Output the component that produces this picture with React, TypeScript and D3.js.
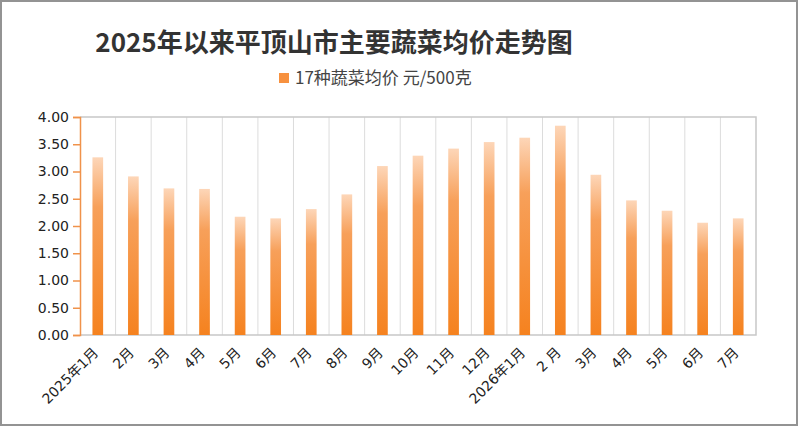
import React, { useEffect, useRef } from 'react';
import * as d3 from 'd3';

const months: string[] = [
  '2025年1月', '2月', '3月', '4月', '5月', '6月', '7月', '8月', '9月', '10月',
  '11月', '12月', '2026年1月', '2 月', '3月', '4月', '5月', '6月', '7月',
];
const prices: number[] = [
  3.26, 2.91, 2.69, 2.68, 2.17, 2.14, 2.31, 2.58, 3.1, 3.29,
  3.42, 3.54, 3.62, 3.84, 2.94, 2.47, 2.28, 2.06, 2.14,
];
const yTicks: number[] = [0, 0.5, 1, 1.5, 2, 2.5, 3, 3.5, 4];
const title = '2025年以来平顶山市主要蔬菜均价走势图';
const seriesName = '17种蔬菜均价 元/500克';

const App: React.FC = () => {
  const ref = useRef<SVGSVGElement | null>(null);

  useEffect(() => {
    const W = 800, H = 436;
    const plot = { left: 80, right: 756, top: 117, bottom: 335 };
    const font = '"DejaVu Sans", "Noto Sans CJK SC", sans-serif';

    const svg = d3.select(ref.current).attr('width', W).attr('height', H);
    svg.selectAll('*').remove();

    const defs = svg.append('defs');
    const grad = defs.append('linearGradient')
      .attr('id', 'barGrad')
      .attr('x1', 0).attr('y1', 0).attr('x2', 0).attr('y2', 1);
    grad.append('stop').attr('offset', '0%').attr('stop-color', '#fdd6b8');
    grad.append('stop').attr('offset', '28%').attr('stop-color', '#f7a05a');
    grad.append('stop').attr('offset', '100%').attr('stop-color', '#f5821f');

    svg.append('rect').attr('width', W).attr('height', H).attr('fill', '#fff');
    // outer frame
    svg.append('rect')
      .attr('x', 1).attr('y', 1).attr('width', 796).attr('height', 424)
      .attr('fill', 'none').attr('stroke', '#939393').attr('stroke-width', 2);

    // months repeat, so the band scale is keyed by index
    const idx = months.map((_m, i) => String(i));
    const x = d3.scaleBand<string>()
      .domain(idx)
      .range([plot.left, plot.right])
      .paddingInner(0.7)
      .paddingOuter(0.35);
    const step = x.step();

    const y = d3.scaleLinear().domain([0, 4]).range([plot.bottom, plot.top]);

    // vertical grid lines between categories
    svg.append('g')
      .selectAll('line')
      .data(idx.slice(1))
      .enter()
      .append('line')
      .attr('x1', (d) => (x(d) as number) - step * 0.35)
      .attr('x2', (d) => (x(d) as number) - step * 0.35)
      .attr('y1', plot.top)
      .attr('y2', plot.bottom)
      .attr('stroke', '#dcdcdc')
      .attr('stroke-width', 1);

    // plot frame top/right/bottom
    svg.append('path')
      .attr('d', `M${plot.left},${plot.top}H${plot.right}V${plot.bottom}H${plot.left}`)
      .attr('fill', 'none')
      .attr('stroke', '#c8c8c8')
      .attr('stroke-width', 1.5);

    // bars
    svg.append('g')
      .selectAll('rect')
      .data(prices)
      .enter()
      .append('rect')
      .attr('x', (_d, i) => x(String(i)) as number)
      .attr('y', (d) => y(d))
      .attr('width', x.bandwidth())
      .attr('height', (d) => plot.bottom - y(d))
      .attr('fill', 'url(#barGrad)');

    // y axis
    const yAxis = svg.append('g')
      .attr('transform', `translate(${plot.left},0)`)
      .call(d3.axisLeft(y).tickValues(yTicks).tickSize(7).tickPadding(4).tickFormat(d3.format('.2f')));
    yAxis.select('.domain').attr('stroke', '#f0924a').attr('stroke-width', 1.5);
    yAxis.selectAll('.tick line').attr('stroke', '#f0924a').attr('stroke-width', 1.5);
    yAxis.selectAll('.tick text')
      .attr('fill', '#222')
      .style('font-family', font)
      .style('font-size', '14px');

    // x labels
    svg.append('g')
      .selectAll('text')
      .data(months)
      .enter()
      .append('text')
      .attr('transform', (_d, i) => `translate(${(x(String(i)) as number) + x.bandwidth() / 2 - 2},${plot.bottom + 15}) rotate(-45)`)
      .attr('text-anchor', 'end')
      .attr('dy', '0.35em')
      .attr('fill', '#222')
      .style('font-family', font)
      .style('font-size', '14px')
      .text((d) => d);

    // title
    svg.append('text')
      .attr('x', 334)
      .attr('y', 52)
      .attr('text-anchor', 'middle')
      .attr('fill', '#333')
      .style('font-family', '"Noto Sans CJK SC", sans-serif')
      .style('font-weight', 'bold')
      .style('font-size', '26px')
      .text(title);

    // legend
    svg.append('rect')
      .attr('x', 279).attr('y', 73).attr('width', 10).attr('height', 10)
      .attr('fill', '#f7913f');
    svg.append('text')
      .attr('x', 295)
      .attr('y', 84)
      .attr('fill', '#444')
      .style('font-family', '"Noto Sans CJK SC", sans-serif')
      .style('font-size', '17px')
      .text(seriesName);
  }, []);

  return <svg ref={ref} style={{ position: 'absolute', left: 0, top: 0 }} />;
};

export default App;
